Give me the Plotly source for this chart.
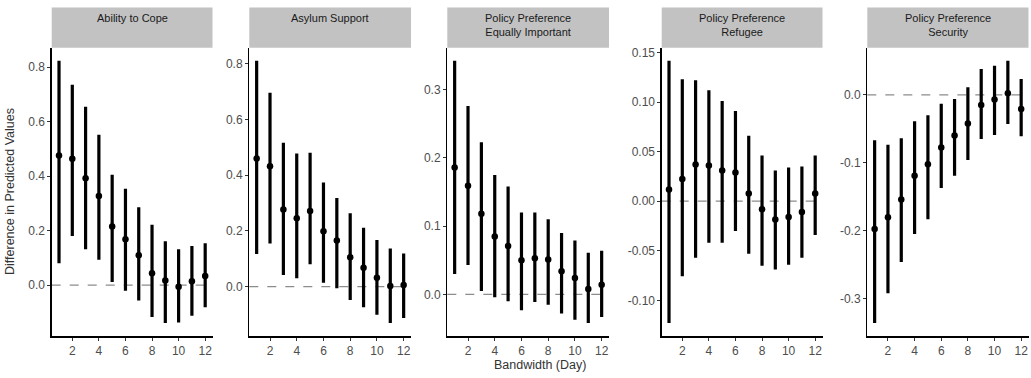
import plotly.graph_objects as go

bandwidth = list(range(1, 13))

panel_titles = [
    "Ability to Cope",
    "Asylum Support",
    "Policy Preference<br>Equally Important",
    "Policy Preference<br>Refugee",
    "Policy Preference<br>Security",
]

# Ability to Cope
cope_est = [0.476, 0.464, 0.392, 0.327, 0.215, 0.169, 0.110, 0.044, 0.017, -0.006, 0.015, 0.034]
cope_lo = [0.081, 0.181, 0.132, 0.093, 0.012, -0.020, -0.056, -0.117, -0.139, -0.137, -0.112, -0.081]
cope_hi = [0.823, 0.735, 0.655, 0.552, 0.405, 0.354, 0.286, 0.222, 0.161, 0.132, 0.144, 0.154]

# Asylum Support
asy_est = [0.460, 0.432, 0.277, 0.245, 0.271, 0.199, 0.165, 0.105, 0.068, 0.032, 0.002, 0.006]
asy_lo = [0.117, 0.155, 0.042, 0.030, 0.080, 0.014, -0.006, -0.048, -0.074, -0.101, -0.131, -0.113]
asy_hi = [0.810, 0.696, 0.516, 0.478, 0.480, 0.374, 0.318, 0.263, 0.211, 0.167, 0.137, 0.119]

# Policy Preference Equally Important
eq_est = [0.186, 0.159, 0.118, 0.085, 0.071, 0.050, 0.053, 0.051, 0.034, 0.024, 0.008, 0.014]
eq_lo = [0.030, 0.043, 0.005, -0.004, -0.010, -0.023, -0.011, -0.015, -0.028, -0.037, -0.042, -0.033]
eq_hi = [0.342, 0.276, 0.223, 0.175, 0.158, 0.120, 0.120, 0.110, 0.090, 0.079, 0.061, 0.064]

# Policy Preference Refugee
ref_est = [0.0118, 0.0225, 0.037, 0.036, 0.031, 0.029, 0.0077, -0.008, -0.0185, -0.016, -0.011, 0.0077]
ref_lo = [-0.123, -0.0757, -0.057, -0.042, -0.042, -0.030, -0.053, -0.065, -0.069, -0.064, -0.057, -0.034]
ref_hi = [0.1416, 0.123, 0.122, 0.112, 0.101, 0.091, 0.066, 0.046, 0.031, 0.034, 0.035, 0.046]

# Policy Preference Security
sec_est = [-0.1975, -0.180, -0.154, -0.119, -0.102, -0.0775, -0.060, -0.042, -0.015, -0.007, 0.0025, -0.021]
sec_lo = [-0.336, -0.292, -0.246, -0.205, -0.183, -0.137, -0.119, -0.096, -0.065, -0.059, -0.043, -0.061]
sec_hi = [-0.067, -0.0735, -0.064, -0.039, -0.030, -0.013, -0.006, 0.011, 0.038, 0.043, 0.050, 0.0235]

x_ticks = [2, 4, 6, 8, 10, 12]
y_ticks = [
    [0.0, 0.2, 0.4, 0.6, 0.8],
    [0.0, 0.2, 0.4, 0.6, 0.8],
    [0.0, 0.1, 0.2, 0.3],
    [-0.10, -0.05, 0.00, 0.05, 0.10, 0.15],
    [-0.3, -0.2, -0.1, 0.0],
]
y_tick_fmt = ["{:.1f}", "{:.1f}", "{:.1f}", "{:.2f}", "{:.1f}"]

series = [
    (cope_est, cope_lo, cope_hi),
    (asy_est, asy_lo, asy_hi),
    (eq_est, eq_lo, eq_hi),
    (ref_est, ref_lo, ref_hi),
    (sec_est, sec_lo, sec_hi),
]

W, H = 1031, 378
panel_px = [(51.7, 212.5), (249.3, 411.0), (447.3, 609.0), (661.7, 822.5), (867.3, 1028.5)]
plot_top, plot_bot = 46.0, 336.0
strip_top = 5.5

FONT = "Liberation Sans, Arial, Helvetica, sans-serif"
fig = go.Figure()
layout = dict(
    width=W, height=H, margin=dict(l=0, r=0, t=0, b=0),
    paper_bgcolor="white", plot_bgcolor="white", showlegend=False,
    font=dict(family=FONT, size=12, color="#4D4D4D"),
)
shapes = []
annotations = []
yd = [1 - plot_bot / H, 1 - plot_top / H]

for i, ((est, lo, hi), (px0, px1)) in enumerate(zip(series, panel_px)):
    n = "" if i == 0 else str(i + 1)
    xa, ya = "x" + n, "y" + n
    fig.add_trace(go.Scatter(
        x=bandwidth, y=est, mode="markers", xaxis=xa, yaxis=ya,
        marker=dict(color="black", size=6.5),
        error_y=dict(type="data", symmetric=False,
                     array=[h - e for h, e in zip(hi, est)],
                     arrayminus=[e - l for e, l in zip(est, lo)],
                     color="black", thickness=3.2, width=0),
        hoverinfo="skip",
    ))
    ymin, ymax = min(lo), max(hi)
    pad = (ymax - ymin) * 0.05
    xd = [px0 / W, px1 / W]
    layout["xaxis" + n] = dict(
        domain=xd, anchor=ya, range=[0.45, 12.55], tickvals=x_ticks,
        showgrid=False, zeroline=False, showline=True, linecolor="black", linewidth=1.3,
        ticks="outside", ticklen=3, tickcolor="#333333", tickwidth=1,
        tickfont=dict(size=12, color="#4D4D4D"),
    )
    layout["yaxis" + n] = dict(
        domain=yd, anchor=xa, range=[ymin - pad, ymax + pad],
        tickvals=y_ticks[i], ticktext=[y_tick_fmt[i].format(v) for v in y_ticks[i]],
        showgrid=False, zeroline=False, showline=True, linecolor="black", linewidth=1.3,
        ticks="outside", ticklen=3, tickcolor="#333333", tickwidth=1,
        tickfont=dict(size=12, color="#4D4D4D"),
    )
    shapes.append(dict(type="line", xref=xa + " domain", yref=ya, x0=0, x1=1, y0=0, y1=0,
                       line=dict(color="#8C8C8C", width=1.2, dash="dash"), layer="below"))
    shapes.append(dict(type="rect", xref="paper", yref="paper",
                       x0=px0 / W, x1=px1 / W, y0=1 - plot_top / H, y1=1 - strip_top / H,
                       fillcolor="#C2C2C2", line=dict(width=0), layer="below"))
    annotations.append(dict(text=panel_titles[i], xref="paper", yref="paper",
                            x=(px0 + px1) / 2 / W, y=1 - 8 / H, xanchor="center", yanchor="top",
                            showarrow=False, align="center",
                            font=dict(family=FONT, size=11, color="#1A1A1A")))

annotations.append(dict(text="Difference in Predicted Values", xref="paper", yref="paper",
                        x=10 / W, y=1 - 191 / H, textangle=-90, showarrow=False,
                        xanchor="center", yanchor="middle",
                        font=dict(family=FONT, size=12.5, color="#333333")))
annotations.append(dict(text="Bandwidth (Day)", xref="paper", yref="paper",
                        x=540 / W, y=1 - 365 / H, showarrow=False,
                        xanchor="center", yanchor="middle",
                        font=dict(family=FONT, size=12.5, color="#333333")))

layout["shapes"] = shapes
layout["annotations"] = annotations
fig.update_layout(**layout)
fig.write_html("out.html", config={"displayModeBar": False, "staticPlot": True},
               post_script="document.body.style.margin='0';document.body.style.overflow='hidden';")
